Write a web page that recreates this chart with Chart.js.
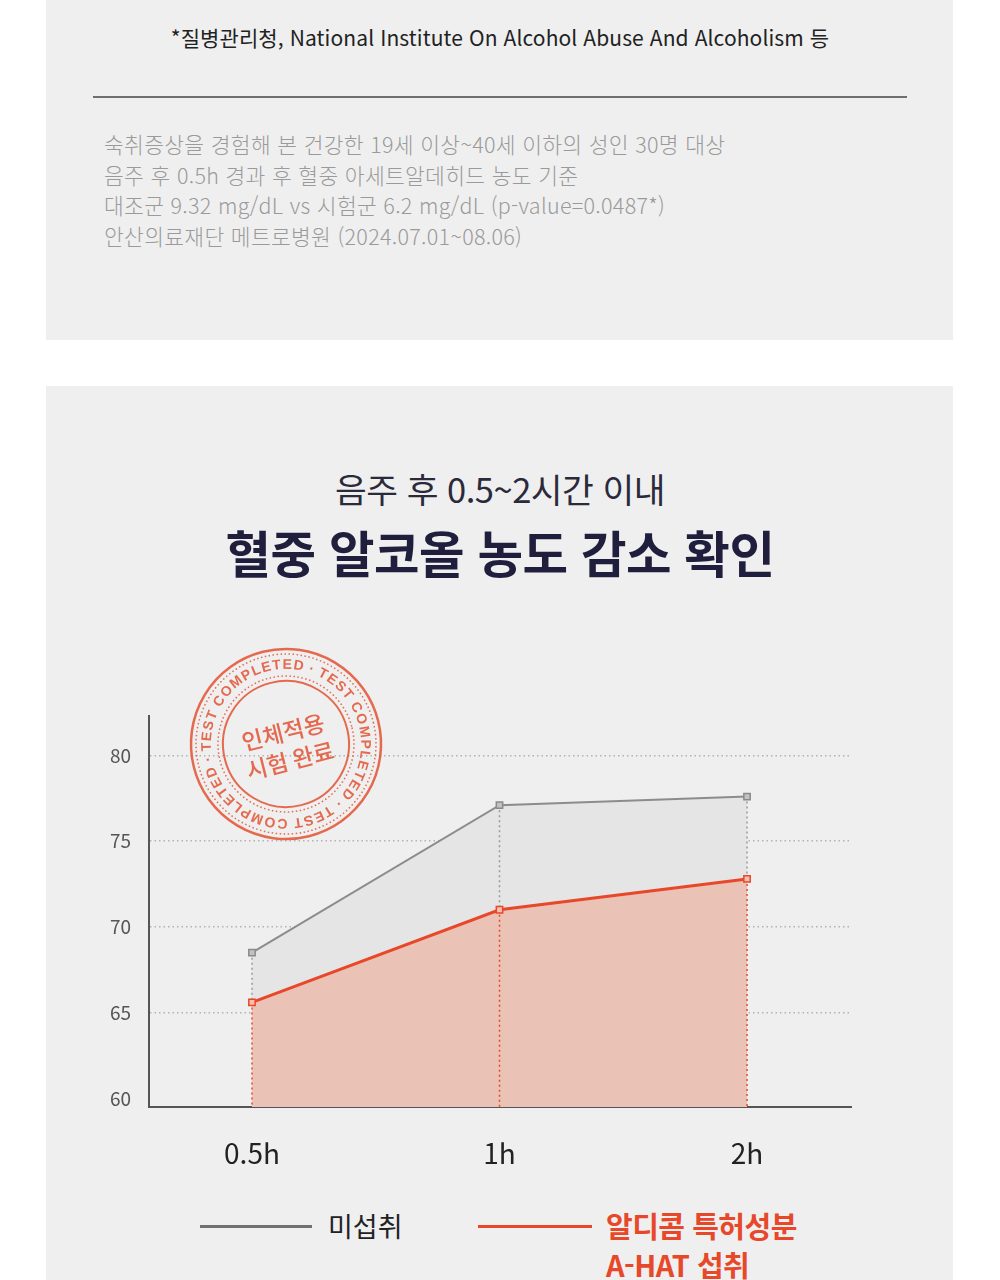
<!DOCTYPE html>
<html lang="ko">
<head>
<meta charset="utf-8">
<script src="https://cdn.jsdelivr.net/npm/chart.js@4.4.1/dist/chart.umd.min.js"></script>
<style>
  body { margin: 0; width: 1000px; height: 1280px; background: #fff; position: relative; overflow: hidden;
         font-family: "Noto Sans CJK KR", "Noto Sans", sans-serif; }
  .panel { position: absolute; left: 46px; width: 907px; background: #efefef; }
  #p1 { top: 0; height: 340px; }
  #p2 { top: 386px; height: 894px; }
  .txt { position: absolute; white-space: nowrap; }
  #source { left: 0; width: 1000px; top: 22px; text-align: center; font-size: 21px; line-height: 30px; color: #222; letter-spacing: 0.1px; }
  #rule { position: absolute; left: 93px; top: 96px; width: 814px; height: 2px; background: #6f6f6f; }
  #notes { left: 104px; top: 129px; font-size: 21.5px; line-height: 30.6px; color: #9a9a9a; letter-spacing: 0.3px; font-weight: 300; }
  #sub { left: 0; width: 1000px; top: 467px; text-align: center; font-size: 34.5px; line-height: 42px; color: #2a2a3a; letter-spacing: -0.5px; }
  #title { left: 0; width: 1000px; top: 521px; text-align: center; font-size: 49.5px; line-height: 62px; font-weight: 700; color: #1f1f3d; letter-spacing: -0.5px; }
  #chartBox { position: absolute; left: 46px; top: 630px; width: 907px; height: 560px; }
  .lg-line { position: absolute; height: 3px; top: 1225px; }
  #lgGray { left: 200px; width: 112px; background: #707070; }
  #lgRed { left: 478px; width: 114px; background: #e8482a; }
  #lgGrayTxt { left: 328px; top: 1206px; font-size: 27px; line-height: 40px; color: #222; }
  #lgRedTxt { left: 606px; top: 1206px; font-size: 29px; line-height: 39px; color: #e8482a; font-weight: 700; letter-spacing: -0.5px; }
</style>
</head>
<body>
<div class="panel" id="p1"></div>
<div class="panel" id="p2"></div>

<div class="txt" id="source">*질병관리청, National Institute On Alcohol Abuse And Alcoholism 등</div>
<div id="rule"></div>
<div class="txt" id="notes">숙취증상을 경험해 본 건강한 19세 이상~40세 이하의 성인 30명 대상<br>음주 후 0.5h 경과 후 혈중 아세트알데히드 농도 기준<br>대조군 9.32 mg/dL vs 시험군 6.2 mg/dL (p-value=0.0487*)<br>안산의료재단 메트로병원 (2024.07.01~08.06)</div>

<div class="txt" id="sub">음주 후 0.5~2시간 이내</div>
<div class="txt" id="title">혈중 알코올 농도 감소 확인</div>

<div id="chartBox"><canvas id="myGrafico"></canvas></div>

<div class="lg-line" id="lgGray"></div>
<div class="txt" id="lgGrayTxt">미섭취</div>
<div class="lg-line" id="lgRed"></div>
<div class="txt" id="lgRedTxt">알디콤 특허성분<br>A-HAT 섭취</div>

<script>
// dados do grafico
const xLabels = ['0.5h', '1h', '2h'];
const yTicks = [60, 65, 70, 75, 80];
const valoresControle = [68.5, 77.1, 77.6];   // 미섭취
const valoresAhat = [65.6, 71.0, 72.8];       // A-HAT 섭취

const CINZA = '#8c8c8c';
const LARANJA = '#e8482a';

// linhas pontilhadas verticais dos pontos ate o eixo
const linhasQueda = {
    id: 'linhasQueda',
    beforeDatasetsDraw(chart) {
        const ctx = chart.ctx;
        const mCinza = chart.getDatasetMeta(0).data;
        const mLar = chart.getDatasetMeta(1).data;
        const base = chart.chartArea.bottom;
        ctx.save();
        ctx.lineWidth = 1.5;
        ctx.setLineDash([2, 3]);
        for (let i = 0; i < mLar.length; i++) {
            ctx.strokeStyle = '#9a9a9a';
            ctx.beginPath();
            ctx.moveTo(mCinza[i].x, mCinza[i].y);
            ctx.lineTo(mLar[i].x, mLar[i].y);
            ctx.stroke();
            ctx.strokeStyle = LARANJA;
            ctx.beginPath();
            ctx.moveTo(mLar[i].x, mLar[i].y);
            ctx.lineTo(mLar[i].x, base);
            ctx.stroke();
        }
        ctx.restore();
    }
};

// carimbo "TEST COMPLETED"
const carimbo = {
    id: 'carimbo',
    afterDraw(chart) {
        const ctx = chart.ctx;
        const cx = chart.chartArea.left + 137;
        const cy = chart.chartArea.top + 28;
        const cor = 'rgba(226, 86, 56, 0.88)';
        ctx.save();
        ctx.translate(cx, cy);
        ctx.rotate(-14 * Math.PI / 180);
        ctx.strokeStyle = cor;
        ctx.fillStyle = cor;

        ctx.lineWidth = 2.5;
        ctx.beginPath(); ctx.arc(0, 0, 95, 0, Math.PI * 2); ctx.stroke();
        ctx.lineWidth = 1.5;
        ctx.setLineDash([1.5, 2.5]);
        ctx.beginPath(); ctx.arc(0, 0, 90, 0, Math.PI * 2); ctx.stroke();
        ctx.beginPath(); ctx.arc(0, 0, 68, 0, Math.PI * 2); ctx.stroke();
        ctx.setLineDash([]);
        ctx.lineWidth = 2;
        ctx.beginPath(); ctx.arc(0, 0, 63, 0, Math.PI * 2); ctx.stroke();

        // texto circular
        const s = 'TEST COMPLETED · '.repeat(3);
        ctx.font = 'bold 14px "Liberation Sans Narrow", "Liberation Sans", Arial, sans-serif';
        ctx.textAlign = 'center';
        ctx.textBaseline = 'middle';
        const larguras = [...s].map(c => ctx.measureText(c).width);
        const total = larguras.reduce((a, b) => a + b, 0);
        let ang = -Math.PI / 2.2;
        [...s].forEach((c, i) => {
            const a = larguras[i] / total * Math.PI * 2;
            ctx.save();
            ctx.rotate(ang + a / 2);
            ctx.fillText(c, 0, -79);
            ctx.restore();
            ang += a;
        });

        ctx.font = '500 23px "Noto Sans CJK KR", sans-serif';
        ctx.fillText('인체적용', 0, -12);
        ctx.fillText('시험 완료', 0, 17);
        ctx.restore();
    }
};

const ctx = document.getElementById('myGrafico');

new Chart(ctx, {
    type: 'line',
    data: {
        datasets: [{
            label: '미섭취',
            data: valoresControle.map((v, i) => ({ x: i, y: v })),
            borderColor: CINZA,
            borderWidth: 2,
            backgroundColor: '#e5e5e5',
            fill: '+1',
            pointStyle: 'rect',
            pointRadius: 4.5,
            pointBackgroundColor: '#c2c2c2',
            pointBorderColor: '#8a8a8a',
            pointBorderWidth: 1.5
        }, {
            label: '알디콤 특허성분 A-HAT 섭취',
            data: valoresAhat.map((v, i) => ({ x: i, y: v })),
            borderColor: LARANJA,
            borderWidth: 3,
            backgroundColor: '#ebc3b6',
            fill: 'start',
            pointStyle: 'rect',
            pointRadius: 4.5,
            pointBackgroundColor: '#f7bfad',
            pointBorderColor: LARANJA,
            pointBorderWidth: 1.5
        }]
    },
    options: {
        responsive: true,
        maintainAspectRatio: false,
        animation: false,
        events: [],
        layout: { padding: { top: 86, right: 102, bottom: 0, left: 0 } },
        plugins: {
            legend: { display: false },
            tooltip: { enabled: false },
            filler: { drawTime: 'beforeDatasetsDraw' }
        },
        scales: {
            x: {
                type: 'linear',
                min: -0.416,
                max: 2.42,
                afterBuildTicks: s => { s.ticks = xLabels.map((l, i) => ({ value: i })); },
                afterFit: s => { s.height = 83; },
                grid: { display: false, drawTicks: false },
                border: { display: true, color: '#555', width: 2 },
                ticks: {
                    padding: 30,
                    color: '#222',
                    font: { size: 28, family: '"Noto Sans CJK KR", sans-serif' },
                    callback: v => xLabels[v]
                }
            },
            y: {
                min: 59.5,
                max: 82.3,
                afterBuildTicks: s => { s.ticks = yTicks.map(v => ({ value: v })); },
                afterFit: s => { s.width = 103; },
                grid: {
                    drawTicks: false,
                    lineWidth: 1.5,
                    color: c => (c.tick && c.tick.value === 60) ? 'rgba(0,0,0,0)' : '#b3b3b3'
                },
                border: { display: true, color: '#555', width: 2, dash: [1.5, 3] },
                ticks: {
                    padding: 18,
                    color: '#555',
                    font: { size: 19, family: '"Noto Sans CJK KR", sans-serif' }
                }
            }
        }
    },
    plugins: [linhasQueda, carimbo]
});
</script>
</body>
</html>
